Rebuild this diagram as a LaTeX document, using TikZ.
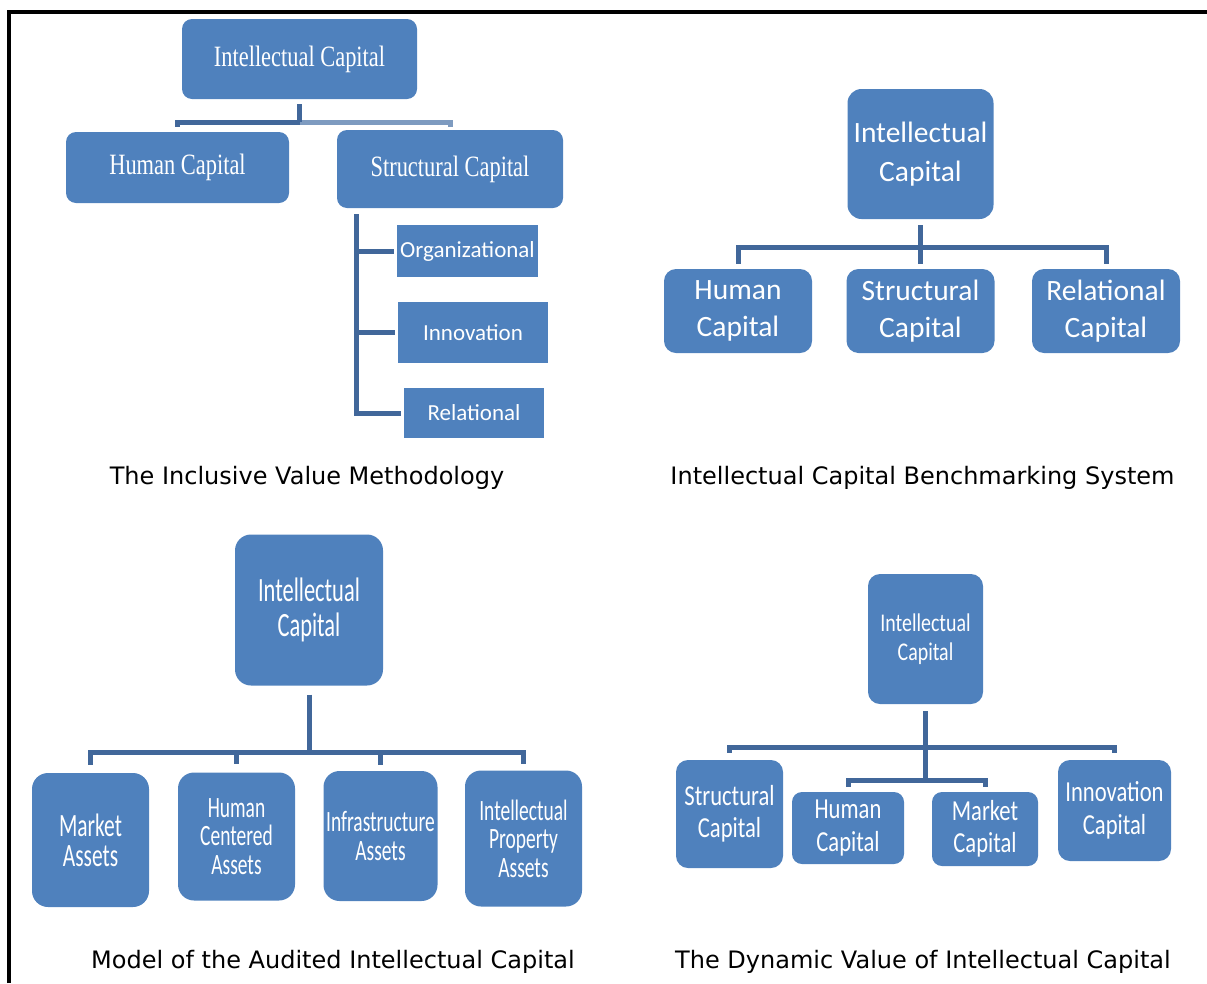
\documentclass[tikz,border=0pt]{standalone}
\usepackage{fontspec}
\setmainfont{DejaVu Sans}
\newfontfamily\serifcond[FakeStretch=0.76]{Liberation Serif}
\newfontfamily\carlitoplain{Carlito}
\newfontfamily\carlitonarrow[FakeStretch=0.66]{Carlito}
\newfontfamily\carlitomid[FakeStretch=0.78]{Carlito}
\usetikzlibrary{calc}
\definecolor{boxblue}{HTML}{4F81BD}
\definecolor{linkblue}{HTML}{41679A}
\definecolor{linklight}{HTML}{7E9BC0}
\begin{document}
\begin{tikzpicture}[x=1pt,y=-1pt,
  box/.style={fill=boxblue, text=white, inner sep=0pt, align=center, rounded corners=#1},
  box/.default=10pt,
  sqbox/.style={fill=boxblue, text=white, inner sep=0pt, align=center},
  conn/.style={draw=linkblue, line width=5pt},
  caption/.style={font=\fontsize{24}{28}\selectfont, text=black, inner sep=0pt},
  serifbox/.style={font=\serifcond\fontsize{29.5}{30}\selectfont},
  subbox/.style={font=\carlitoplain\fontsize{23}{27}\selectfont},
  bench/.style={font=\carlitoplain\fontsize{29.5}{38.5}\selectfont},
  audit/.style={font=\carlitonarrow\fontsize{29.5}{28.5}\selectfont},
  dyn/.style={font=\carlitomid\fontsize{29}{32.5}\selectfont}]
\useasboundingbox (0,0) rectangle (1207,983);

% outer frame (top and left edges)
\draw[line width=4pt] (9,983) -- (9,12) -- (1207,12);

% ---- The Inclusive Value Methodology ----
\node[box, serifbox, minimum width=235, minimum height=80] (ic1) at (299.5,59) {Intellectual Capital};
\node[box, serifbox, minimum width=223, minimum height=71] (hc1) at (177.5,167.5) {Human Capital};
\node[box, serifbox, minimum width=226, minimum height=78] (sc1) at (450,169) {Structural Capital};
\node[sqbox, subbox, minimum width=141, minimum height=52] (org1) at (467.5,251) {Organizational};
\node[sqbox, subbox, minimum width=150, minimum height=61] (inn1) at (473,332.5) {Innovation};
\node[sqbox, subbox, minimum width=140, minimum height=50] (rel1) at (474,413) {Relational};

\coordinate (j1) at (299.5,122);
\draw[conn, draw=linklight, shorten >=3pt] (j1) -| (sc1.north);
\draw[conn, shorten <=5pt] (ic1.south) -- (j1);
\draw[conn, shorten >=5pt] (j1) -| (hc1.north);
\coordinate (t1) at ([xshift=20pt,yshift=-6pt]sc1.south west);
\draw[conn, shorten >=3pt] (t1) |- (rel1.west);
\draw[conn, shorten >=3pt] (t1) |- (inn1.west);
\draw[conn, shorten >=3pt] (t1) |- (org1.west);

\node[caption] (cap1) at (307,478) {The Inclusive Value Methodology};

% ---- Intellectual Capital Benchmarking System ----
\node[box=14pt, bench, minimum width=146, minimum height=130] (ic2) at (920.5,154) {Intellectual\\Capital};
\node[box=12pt, bench, minimum width=148, minimum height=84] (hc2) at (738,311) {\raisebox{-2pt}{Human}\\Capital};
\node[box=12pt, bench, minimum width=148, minimum height=84] (sc2) at (920.5,311) {\raisebox{-2pt}{Structural}\\Capital};
\node[box=12pt, bench, minimum width=148, minimum height=84] (rc2) at (1106,311) {\raisebox{-2pt}{Relational}\\Capital};

\coordinate (j2) at (920.5,247);
\draw[conn, shorten <=6pt] (ic2.south) -- (j2);
\draw[conn, shorten >=5pt] (j2) -| (hc2.north);
\draw[conn, shorten >=5pt] (j2) -- (sc2.north);
\draw[conn, shorten >=5pt] (j2) -| (rc2.north);

\node[caption] (cap2) at (922.5,478) {Intellectual Capital Benchmarking System};

% ---- Model of the Audited Intellectual Capital ----
\node[box=16pt, font=\carlitonarrow\fontsize{34}{35}\selectfont, minimum width=148, minimum height=151] (ic3) at (309,610) {Intellectual\\Capital};
\node[box=16pt, font=\carlitonarrow\fontsize{32.5}{30}\selectfont, minimum width=117, minimum height=134] (ma3) at (90.5,840) {Market\\Assets};
\node[box=16pt, audit, minimum width=117, minimum height=128] (hu3) at (236.5,836.5) {Human\\Centered\\Assets};
\node[box=16pt, audit, minimum width=114, minimum height=130] (in3) at (380.5,836) {Infrastructure\\Assets};
\node[box=16pt, audit, minimum width=117, minimum height=136] (ip3) at (523.5,838.5) {Intellectual\\Property\\Assets};

\coordinate (j3) at (309,752);
\draw[conn, shorten <=9pt] (ic3.south) -- (j3);
\draw[conn, shorten >=8pt] (j3) -| (ma3.north);
\draw[conn, shorten >=8pt] (j3) -| (hu3.north);
\draw[conn, shorten >=6pt] (j3) -| (in3.north);
\draw[conn, shorten >=6pt] (j3) -| (ip3.north);

\node[caption] (cap3) at (333,962) {Model of the Audited Intellectual Capital};

% ---- The Dynamic Value of Intellectual Capital ----
\node[box=12pt, font=\carlitomid\fontsize{25.5}{29}\selectfont, minimum width=115, minimum height=130] (ic4) at (925.5,639) {Intellectual\\Capital};
\node[box=12pt, dyn, minimum width=107, minimum height=108] (st4) at (729.5,814) {Structural\\Capital};
\node[box=10pt, dyn, minimum width=112, minimum height=72] (hu4) at (848,828) {Human\\Capital};
\node[box=10pt, dyn, minimum width=106, minimum height=74] (ma4) at (985,829) {Market\\Capital};
\node[box=12pt, dyn, minimum width=113, minimum height=101] (in4) at (1114.5,810.5) {Innovation\\Capital};

\coordinate (j4a) at (925.5,747);
\coordinate (j4b) at (925.5,780);
\draw[conn, shorten <=7pt] (ic4.south) -- (j4b);
\draw[conn, shorten >=7pt] (j4a) -| (st4.north);
\draw[conn, shorten >=7pt] (j4a) -| (in4.north);
\draw[conn, shorten >=5pt] (j4b) -| (hu4.north);
\draw[conn, shorten >=5pt] (j4b) -| (ma4.north);

\node[caption] (cap4) at (923,962) {The Dynamic Value of Intellectual Capital};
\end{tikzpicture}
\end{document}
